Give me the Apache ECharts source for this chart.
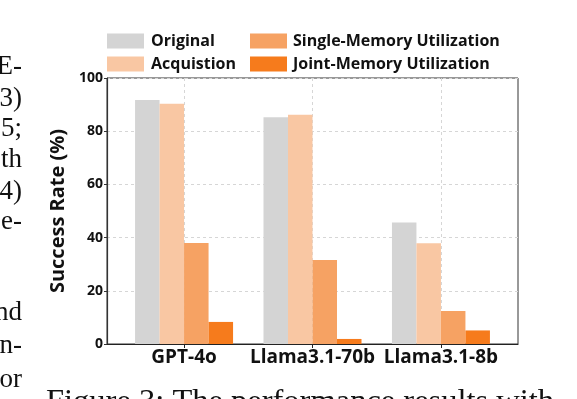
<!DOCTYPE html>
<html>
<head>
<meta charset="utf-8">
<script src="https://cdn.jsdelivr.net/npm/echarts@6/dist/echarts.min.js"></script>
<style>
  html, body { margin: 0; padding: 0; background: #fff; }
  #chart { width: 577px; height: 399px; }
</style>
</head>
<body>
<div id="chart"></div>
<script>
// data
const models = ['GPT-4o', 'Llama3.1-70b', 'Llama3.1-8b'];
const seriesNames = ['Original', 'Acquistion', 'Single-Memory Utilization', 'Joint-Memory Utilization'];
const original = [91.7, 85.2, 45.7];
const acquistion = [90.3, 86.2, 37.9];
const singleMemory = [38.0, 31.6, 12.4];
const jointMemory = [8.3, 1.9, 5.1];
const yTicks = [0, 20, 40, 60, 80, 100];

// cut-off paper text around the figure
const sideText = ['E-', '3)', '5;', 'th', '4)', 'e-', 'nd', 'n-', 'or'];
const captionText = 'Figure 3: The performance results with';
const sideY = [67, 99, 129, 160, 192, 222, 313, 346, 380];

const colors = ['#d4d4d4', '#f9c7a3', '#f6a263', '#f67b1c'];
const allValues = [original, acquistion, singleMemory, jointMemory];

// models sit at 1.5, 4, 6.5 on a 0..8 axis so the dotted grid falls between them
const pos = i => 1.5 + 2.5 * i;
const ticks = models.map((m, i) => pos(i));

const FONT = '"Open Sans", "Noto Sans", sans-serif';

const series = seriesNames.map((name, k) => ({
  name: name,
  type: 'bar',
  barWidth: 24.5,
  barGap: '0%',
  itemStyle: { color: colors[k] },
  data: allValues[k].map((v, i) => [pos(i), v])
}));

const graphics = sideText.map((t, i) => ({
  type: 'text',
  x: 22,
  y: sideY[i],
  style: {
    text: t,
    font: '27px "Liberation Serif", "DejaVu Serif", serif',
    fill: '#111',
    textAlign: 'right',
    textVerticalAlign: 'middle'
  }
}));
graphics.push({
  type: 'text',
  x: 46,
  y: 419,
  style: {
    text: captionText,
    font: '32.5px "Liberation Serif", "DejaVu Serif", serif',
    fill: '#111',
    textAlign: 'left',
    textVerticalAlign: 'bottom'
  }
});

const legendText = { fontFamily: FONT, fontSize: 16, fontWeight: 'bold', color: '#111' };

const option = {
  animation: false,
  grid: {
    left: 107, right: 59, top: 78, bottom: 55,
    show: true, borderColor: '#333', borderWidth: 1
  },
  legend: [
    {
      data: seriesNames.slice(0, 2),
      orient: 'vertical', left: 102, top: 28,
      itemWidth: 37, itemHeight: 15, itemGap: 7,
      icon: 'rect',
      textStyle: Object.assign({ padding: [0, 0, 0, 2] }, legendText)
    },
    {
      data: seriesNames.slice(2),
      orient: 'vertical', left: 245, top: 28,
      itemWidth: 37, itemHeight: 15, itemGap: 7,
      icon: 'rect',
      textStyle: Object.assign({ padding: [0, 0, 0, 1] }, legendText)
    }
  ],
  xAxis: {
    type: 'value',
    min: 0, max: 8, interval: 1,
    axisLine: { show: true, onZero: false, lineStyle: { color: '#222', width: 1.2 } },
    axisTick: { show: true, customValues: ticks, length: 4, lineStyle: { color: '#222' } },
    axisLabel: {
      customValues: ticks,
      formatter: v => models[Math.round((v - 1.5) / 2.5)],
      fontFamily: FONT, fontSize: 19, fontWeight: 'bold', color: '#111', margin: 4
    },
    splitLine: { show: true, lineStyle: { color: '#d6d6d6', type: [3, 3], width: 1 } }
  },
  yAxis: {
    type: 'value',
    min: yTicks[0], max: yTicks[yTicks.length - 1], interval: 20,
    name: 'Success Rate (%)',
    nameLocation: 'middle',
    nameGap: 31,
    nameTextStyle: { fontFamily: FONT, fontSize: 20, fontWeight: 'bold', color: '#111' },
    axisLine: { show: true, lineStyle: { color: '#333', width: 1.2 } },
    axisTick: { show: true, length: 3, lineStyle: { color: '#333' } },
    axisLabel: { fontFamily: FONT, fontSize: 14, fontWeight: 'bold', color: '#111', margin: 4 },
    splitLine: { show: true, lineStyle: { color: '#d6d6d6', type: [3, 3], width: 1 } }
  },
  series: series,
  graphic: graphics
};

const chart = echarts.init(document.getElementById('chart'), null, { renderer: 'canvas' });
chart.setOption(option);
</script>
</body>
</html>
